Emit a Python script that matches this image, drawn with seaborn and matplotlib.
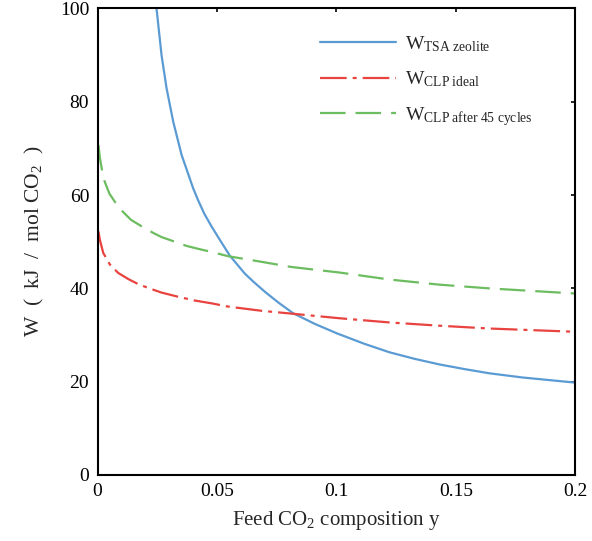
import matplotlib
matplotlib.use("Agg")
import matplotlib.pyplot as plt
import seaborn as sns
import pandas as pd

# Feed CO2 composition (x) and specific work W in kJ / mol CO2 (y)
tsa_y = [0.0247, 0.0268, 0.0289, 0.0317, 0.0352, 0.0400, 0.0421, 0.0447, 0.0477,
         0.0512, 0.0554, 0.0616, 0.0651, 0.0700, 0.0756, 0.0818, 0.0909, 0.1000,
         0.1118, 0.1222, 0.1327, 0.1431, 0.1536, 0.1640, 0.1779, 0.2000]
tsa_w = [100.0, 90.0, 82.9, 75.7, 68.6, 61.5, 58.9, 56.0, 53.3,
         50.4, 47.0, 43.2, 41.5, 39.3, 37.0, 34.7, 32.4, 30.4,
         28.1, 26.3, 24.9, 23.7, 22.7, 21.8, 20.9, 19.8]

clp_ideal_y = [0.0004, 0.0010, 0.0024, 0.0052, 0.0087, 0.0129, 0.0171, 0.0212,
               0.0268, 0.0338, 0.0407, 0.0477, 0.0547, 0.0686, 0.0810, 0.1013,
               0.1222, 0.1431, 0.1640, 0.2000]
clp_ideal_w = [52.2, 50.4, 47.6, 45.1, 43.3, 42.0, 40.9, 40.1,
               39.1, 38.2, 37.4, 36.8, 36.1, 35.2, 34.6, 33.6,
               32.7, 32.0, 31.4, 30.7]

clp_45_y = [0.0004, 0.0010, 0.0020, 0.0030, 0.0050, 0.0080, 0.0101, 0.0140,
            0.0191, 0.0233, 0.0268, 0.0324, 0.0373, 0.0420, 0.0470, 0.0547,
            0.0686, 0.0810, 0.1013, 0.1222, 0.1431, 0.1640, 0.2000]
clp_45_w = [70.7, 68.0, 65.0, 62.9, 60.3, 58.0, 56.7, 54.7,
            53.1, 51.9, 51.0, 50.0, 49.1, 48.5, 47.9, 46.9,
            45.7, 44.6, 43.4, 41.9, 40.8, 40.0, 38.9]

x_ticks = [0, 0.05, 0.1, 0.15, 0.2]
x_tick_labels = ["0", "0.05", "0.1", "0.15", "0.2"]
y_ticks = [0, 20, 40, 60, 80, 100]

sns.set_style("white")
plt.rcParams["font.family"] = ["Liberation Serif", "DejaVu Serif"]
plt.rcParams["mathtext.fontset"] = "custom"
plt.rcParams["mathtext.rm"] = "Liberation Serif"
plt.rcParams["mathtext.it"] = "Liberation Serif:italic"
plt.rcParams["mathtext.default"] = "regular"

fig = plt.figure(figsize=(5.92, 5.41), dpi=100)
ax = fig.add_axes([0.1647, 0.122, 0.8073, 0.8623])

series = [
    (tsa_y, tsa_w, "#5b9bd3", r"W$_{\mathrm{TSA\ zeolite}}$", "-"),
    (clp_ideal_y, clp_ideal_w, "#e8433f", r"W$_{\mathrm{CLP\ ideal}}$", "-."),
    (clp_45_y, clp_45_w, "#6cbd5f", r"W$_{\mathrm{CLP\ after\ 45\ cycles}}$", "--"),
]
for xs, ws, col, lab, ls in series:
    df = pd.DataFrame({"y": xs, "W": ws})
    sns.lineplot(data=df, x="y", y="W", ax=ax, color=col, label=lab,
                 linewidth=1.6, sort=True)
    line = ax.get_lines()[-1]
    line.set_solid_joinstyle("round")
    line.set_dash_joinstyle("round")
    line.set_dash_capstyle("butt")
    if ls == "-.":
        line.set_dashes([12, 2.7, 1.8, 2.7])
    elif ls == "--":
        line.set_dashes([11.5, 4.5])

ax.set_xlim(0, 0.2)
ax.set_ylim(0, 100)
ax.set_xticks(x_ticks)
ax.set_xticklabels(x_tick_labels)
ax.set_yticks(y_ticks)
ax.tick_params(direction="in", length=3, width=1.2, top=True, right=True,
               labelsize=14, colors="black", pad=6)
for sp in ax.spines.values():
    sp.set_visible(True)
    sp.set_color("black")
    sp.set_linewidth(1.5)

ax.set_xlabel(r"Feed CO$_2$ composition y", fontsize=15, labelpad=6)
ax.set_ylabel(r"W  (  kJ  /  mol CO$_2$  )", fontsize=15.5, labelpad=10)

leg = ax.legend(loc="upper left", bbox_to_anchor=(0.4655, 0.945), frameon=False,
                fontsize=14, handlelength=3.9, handletextpad=0.45,
                labelspacing=0.8, borderpad=0, borderaxespad=0)

fig.savefig("out.png", dpi=100)
